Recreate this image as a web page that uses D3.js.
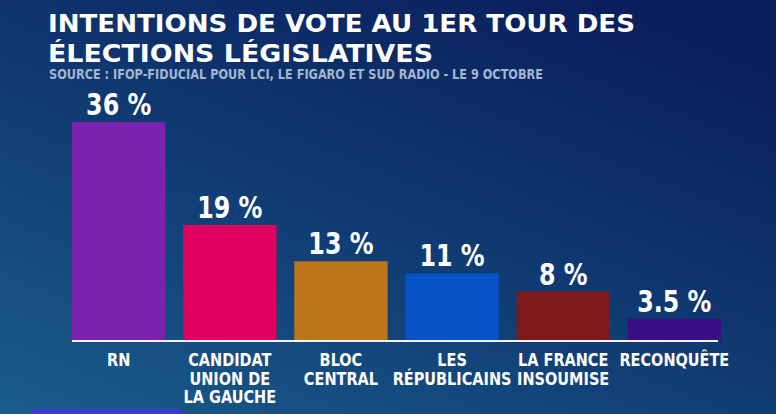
<!DOCTYPE html>
<meta charset="utf-8">
<style>
body { margin: 0; background: #0d2a5e; }
svg { display: block; }
text { font-family: "DejaVu Sans Condensed", "DejaVu Sans", sans-serif; font-stretch: condensed; font-weight: bold; fill: #fff; }
</style>
<body>
<script src="https://cdn.jsdelivr.net/npm/d3@7"></script>
<script>

// data
var parties = ["RN", "CANDIDAT|UNION DE|LA GAUCHE", "BLOC|CENTRAL", "LES|RÉPUBLICAINS", "LA FRANCE|INSOUMISE", "RECONQUÊTE"];
var values = [36, 19, 13, 11, 8, 3.5];
var valueLabels = ["36 %", "19 %", "13 %", "11 %", "8 %", "3.5 %"];
var colors = ["#7b22b0", "#e0005f", "#bd7619", "#0653c7", "#7f1a1a", "#3a0f85"];

var W = 776, H = 414;

var svg = d3.select("body").append("svg")
    .attr("width", W)
    .attr("height", H);

// background gradient
var defs = svg.append("defs");
var grad = defs.append("linearGradient")
    .attr("id", "bg")
    .attr("x1", "0%").attr("y1", "100%")
    .attr("x2", "75%").attr("y2", "0%");
grad.append("stop").attr("offset", "0%").attr("stop-color", "#1a5d8b");
grad.append("stop").attr("offset", "45%").attr("stop-color", "#113f76");
grad.append("stop").attr("offset", "100%").attr("stop-color", "#0a1f5c");

svg.append("rect")
    .attr("width", W).attr("height", H)
    .attr("fill", "url(#bg)");

// squeeze a text horizontally so it reads like the narrow broadcast font
function narrow(sel, k) {
  sel.each(function() {
    var w = this.getComputedTextLength();
    d3.select(this).attr("textLength", w * k).attr("lengthAdjust", "spacingAndGlyphs");
  });
}

// title
svg.append("text")
    .attr("x", 48).attr("y", 32)
    .attr("font-size", 25.5)
    .attr("textLength", 587).attr("lengthAdjust", "spacingAndGlyphs")
    .text("INTENTIONS DE VOTE AU 1ER TOUR DES");
svg.append("text")
    .attr("x", 48).attr("y", 62)
    .attr("font-size", 25.5)
    .attr("textLength", 385).attr("lengthAdjust", "spacingAndGlyphs")
    .text("ÉLECTIONS LÉGISLATIVES");
svg.append("text")
    .attr("x", 49).attr("y", 79)
    .attr("font-size", 13.5)
    .style("fill", "#a3b6cf")
    .attr("textLength", 494).attr("lengthAdjust", "spacingAndGlyphs")
    .text("SOURCE : IFOP-FIDUCIAL POUR LCI, LE FIGARO ET SUD RADIO - LE 9 OCTOBRE");

// scales
var x = d3.scaleBand()
    .domain(parties)
    .range([72, 721])
    .paddingInner(0.16)
    .paddingOuter(0);

var y = d3.scaleLinear()
    .domain([0, 36])
    .range([340, 122]);

// bars
svg.selectAll(".bar")
    .data(parties)
  .enter().append("rect")
    .attr("class", "bar")
    .attr("x", function(d) { return x(d); })
    .attr("width", x.bandwidth())
    .attr("y", function(d, i) { return y(values[i]); })
    .attr("height", function(d, i) { return y(0) - y(values[i]); })
    .attr("fill", function(d, i) { return colors[i]; });

// baseline
svg.append("line")
    .attr("x1", 72).attr("x2", 718)
    .attr("y1", y(0) + 1).attr("y2", y(0) + 1)
    .attr("stroke", "#f2f2ff")
    .attr("stroke-width", 2);

// value labels
var vals = svg.selectAll(".val")
    .data(parties)
  .enter().append("text")
    .attr("class", "val")
    .attr("x", function(d) { return x(d) + x.bandwidth() / 2; })
    .attr("y", function(d, i) { return y(values[i]) - 7; })
    .attr("text-anchor", "middle")
    .attr("font-size", 30)
    .text(function(d, i) { return valueLabels[i]; });
narrow(vals, 0.88);

// category labels, one text per line
var catLines = [];
parties.forEach(function(p) {
  p.split("|").forEach(function(s, j) { catLines.push({key: p, line: s, row: j}); });
});

var cats = svg.selectAll(".cat")
    .data(catLines)
  .enter().append("text")
    .attr("class", "cat")
    .attr("text-anchor", "middle")
    .attr("font-size", 17.5)
    .attr("x", function(d) { return x(d.key) + x.bandwidth() / 2; })
    .attr("y", function(d) { return 366 + d.row * 18.5; })
    .text(function(d) { return d.line; });
narrow(cats, 0.92);

// bottom band
svg.append("rect")
    .attr("x", 31).attr("y", 409)
    .attr("width", 150).attr("height", 5)
    .attr("fill", "#3b3bd1");

</script>
</body>
